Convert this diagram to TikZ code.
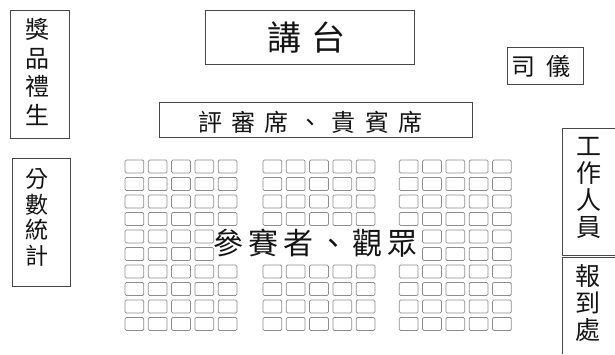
\documentclass[tikz,border=0pt]{standalone}
\usepackage{fontspec}
\newfontfamily\cjk{Noto Sans CJK TC}
\begin{document}
\begin{tikzpicture}[x=1pt,y=-1pt,
  box/.style={draw=black!72, line width=0.8pt, inner sep=0pt},
  seat/.style={draw=black!45, line width=0.75pt, rounded corners=1.3pt},
  lbl/.style={inner sep=0pt, align=center, text=black!92}]
\useasboundingbox (0,0) rectangle (615,354);
% boxes
\node[box, minimum width=59pt, minimum height=128pt] (prizebox) at (39.5,74) {};
\node[box, minimum width=58pt, minimum height=128pt] (scorebox) at (41,222) {};
\node[box, minimum width=209pt, minimum height=54pt] (stagebox) at (309.5,37) {};
\node[box, minimum width=313pt, minimum height=35pt] (judgebox) at (315.5,119.5) {};
\node[box, minimum width=76pt, minimum height=37pt] (mcbox) at (545,65.5) {};
\coordinate (staffTR) at (615,128);
\coordinate (staffTL) at (562,128);
\coordinate (staffBL) at (562,255);
\coordinate (staffBR) at (615,255);
\coordinate (regTR) at (615,257);
\coordinate (regTL) at (562,257);
\coordinate (regBL) at (562,354);
\draw[box] (staffTR) -- (staffTL) -- (staffBL) -- (staffBR);
\draw[box] (regTR) -- (regTL) -- (regBL);
% labels
\node[lbl, font={\cjk\fontsize{24}{28.7}\selectfont}] (prize) at (37,72) {獎\\品\\禮\\生};
\node[lbl, font={\cjk\fontsize{23}{25.8}\selectfont}] (score) at (37,217.5) {分\\數\\統\\計};
\node[lbl, font={\cjk\fontsize{25}{27}\selectfont}] (staff) at (589,188) {工\\作\\人\\員};
\node[lbl, font={\cjk\fontsize{25}{27}\selectfont}] (reg) at (588,303) {報\\到\\處};
\node[lbl, font={\cjk\fontsize{34}{40}\selectfont}] (stage) at (306.5,37) {講\hspace{11pt}台};
\node[lbl, font={\cjk\fontsize{24}{28}\selectfont}] (mc) at (541,66) {司\hspace{10.5pt}儀};
\node[lbl, font={\cjk\fontsize{24}{28}\selectfont}] (judge) at (310.3,122) {評\hspace{9.4pt}審\hspace{9.4pt}席\hspace{9.4pt}、\hspace{9.4pt}貴\hspace{9.4pt}賓\hspace{9.4pt}席};
% seats
\foreach \bx/\skip in {125/4, 263/9, 399.3/0}{
  \foreach \c in {0,...,4}{
    \foreach \r in {0,...,9}{
      \pgfmathtruncatemacro{\mid}{(\r==4 || \r==5) ? 1 : 0}
      \pgfmathtruncatemacro{\hide}{(\mid==1 && (\skip==9 || \c==\skip)) ? 1 : 0}
      \ifnum\hide=0
        \draw[seat] ({\bx+23.3*\c},{160+17.5*\r}) rectangle ++(18.8,13);
      \fi
    }
  }
}
\node[lbl, font={\cjk\fontsize{30}{34}\selectfont}] (audience) at (315.7,243) {參\hspace{4.7pt}賽\hspace{4.7pt}者\hspace{4.7pt}、\hspace{4.7pt}觀\hspace{4.7pt}眾};
\end{tikzpicture}
\end{document}
